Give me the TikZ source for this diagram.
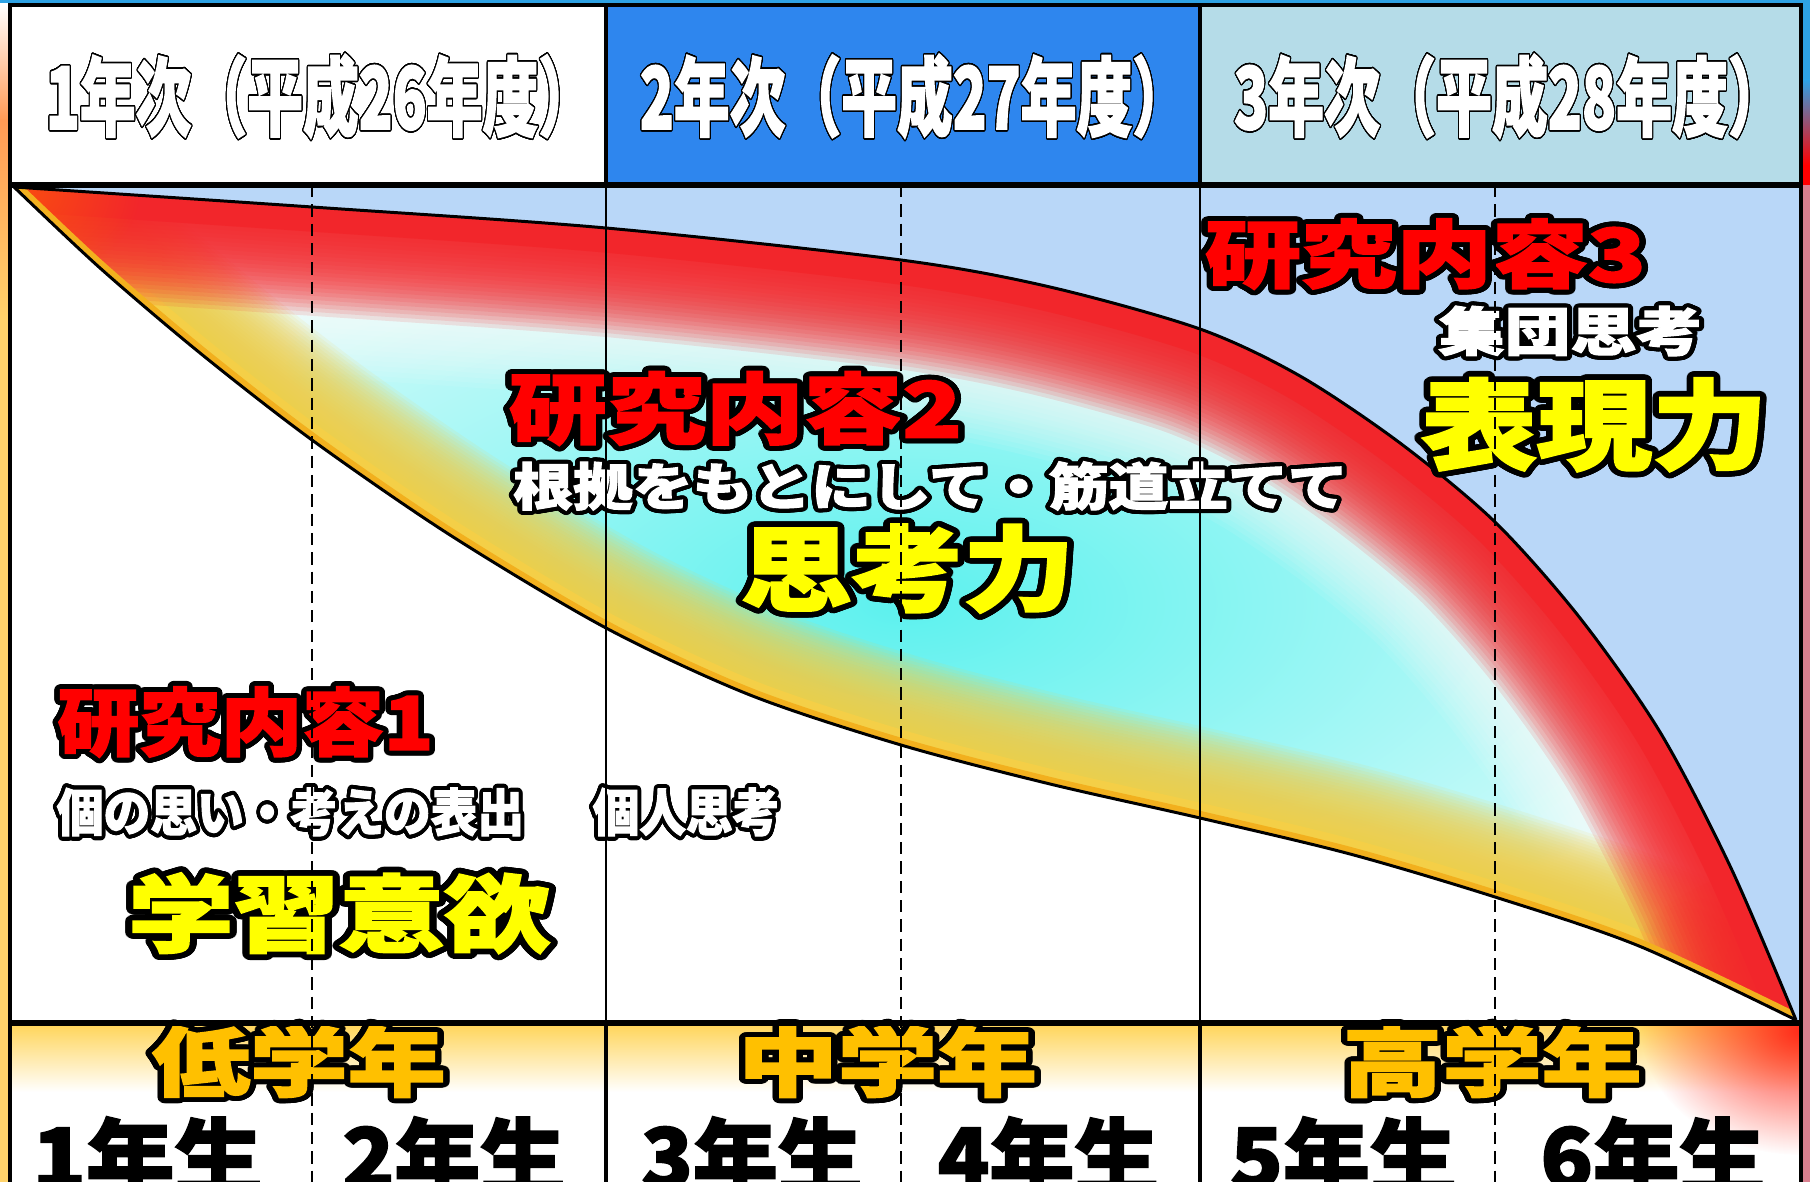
\documentclass[tikz,border=0pt]{standalone}
\usepackage{fontspec}
\usepackage{graphicx}
\usepackage{contour}
\usetikzlibrary{fadings}
\newfontfamily\jpn{Noto Sans CJK JP}[BoldFeatures={FakeBold=2}]
\contournumber{32}
\newcommand\jfs[1]{\jpn\bfseries\fontsize{#1pt}{#1pt}\selectfont}
\newcommand\olbl[3]{\resizebox{#1pt}{\height}{\contourlength{#2pt}\contour{black}{#3}}}
\newcommand\plbl[2]{\resizebox{#1pt}{\height}{#2}}
\definecolor{hdrblue}{HTML}{2E86EE}
\definecolor{hdrcyan}{HTML}{B5DCE8}
\definecolor{skyb}{HTML}{B9D7F8}
\definecolor{txtred}{HTML}{FF0000}
\definecolor{txtyel}{HTML}{FFFF00}
\definecolor{amber}{HTML}{FFC000}
\definecolor{bandred}{HTML}{F2262B}
\definecolor{bandyel}{HTML}{F4CF47}
\definecolor{bandorg}{HTML}{F2B01E}
\definecolor{cyanc}{HTML}{5CF1EE}
\definecolor{cyano}{HTML}{D6FBFA}
\definecolor{rowyel}{HTML}{FFD457}
\definecolor{glowred}{HTML}{FF2A1A}
\definecolor{topblue}{HTML}{2EA2E4}
\definecolor{rpink}{HTML}{D9808F}
\definecolor{lorange}{HTML}{FF9A55}
\definecolor{lyellow}{HTML}{FFD36B}
\tikzfading[name=glowfade, inner color=transparent!0, outer color=transparent!100]
\tikzset{
  lbl/.style={inner sep=0pt, outer sep=0pt, anchor=center},
  frameln/.style={line width=2.8pt, black},
  rowln/.style={line width=3.6pt, black},
  thinln/.style={line width=1.4pt, black},
  dashln/.style={line width=1.2pt, black, dash pattern=on 7pt off 4pt},
  curveln/.style={line width=1.7pt, black},
}
\begin{document}
\begin{tikzpicture}[x=0.02cm, y=-0.02cm]
\useasboundingbox (0,0) rectangle (1810,1182);
% outer strips
\fill[white] (0,0) rectangle (1810,1182);
\fill[topblue] (0,0) rectangle (1810,4);
\shade[top color=white, bottom color=lorange] (0,4) rectangle (9,120);
\shade[top color=lorange, bottom color=lyellow] (0,120) rectangle (9,320);
\fill[lyellow] (0,320) rectangle (9,1182);
\fill[topblue] (1802,0) rectangle (1810,80);
\shade[top color=topblue, bottom color=red] (1802,80) rectangle (1810,165);
\fill[red] (1802,165) rectangle (1810,185);
\fill[rpink] (1802,185) rectangle (1810,1182);
% header cells
\fill[white] (10,5) rectangle (606,185);
\fill[hdrblue] (606,5) rectangle (1200,185);
\fill[hdrcyan] (1200,5) rectangle (1801,185);
% chart area
\fill[skyb] (10,185) rectangle (1801,1023);
\path[save path=\upperP] plot[smooth] coordinates {(14,187) (312,207) (606,228) (901,260) (1050,287) (1200,329) (1300,376) (1400,443) (1495,522) (1580,618) (1660,732) (1731,868) (1796,1020)};
\path[save path=\lowerP] plot[smooth] coordinates {(14,187) (100,268) (200,353) (312,440) (450,535) (606,628) (750,695) (901,745) (1050,784) (1200,818) (1350,854) (1495,897) (1639,946) (1796,1020)};
\fill[white] plot[smooth] coordinates {(14,187) (100,268) (200,353) (312,440) (450,535) (606,628) (750,695) (901,745) (1050,784) (1200,818) (1350,854) (1495,897) (1639,946) (1796,1020)} -- (1801,1023) -- (10,1023) -- (10,187) -- cycle;
\begin{scope}
\clip plot[smooth] coordinates {(14,187) (312,207) (606,228) (901,260) (1050,287) (1200,329) (1300,376) (1400,443) (1495,522) (1580,618) (1660,732) (1731,868) (1796,1020)} -- plot[smooth] coordinates {(1796,1020) (1639,946) (1495,897) (1350,854) (1200,818) (1050,784) (901,745) (750,695) (606,628) (450,535) (312,440) (200,353) (100,268) (14,187)} -- cycle;
\shade[inner color=cyanc, outer color=cyano] (14,187) rectangle (1796,1020);
\foreach \h in {50,55,...,170}{
  \draw[white, line width=\h*1.134pt, opacity=.08, use path=\upperP];}
\foreach \h in {15,18,...,90}{
  \draw[bandyel, line width=\h*1.134pt, opacity=.1, use path=\lowerP];}
\draw[bandyel, line width=17pt, use path=\lowerP];
\foreach \h in {25,29,...,112}{
  \draw[bandred, line width=\h*1.134pt, opacity=.12, use path=\upperP];}
\draw[bandred, line width=28pt, use path=\upperP];
\fill[bandred, opacity=.85, path fading=glowfade] (1796,1015) ellipse (190 and 150);
\fill[orange!80!red, opacity=.6, path fading=glowfade] (20,192) ellipse (120 and 90);
\draw[bandorg, line width=8pt, use path=\lowerP];
\end{scope}
\draw[curveln, use path=\upperP];
\draw[curveln, use path=\lowerP];
% bottom row
\fill[white] (10,1023) rectangle (1801,1182);
\shade[top color=rowyel, bottom color=white] (10,1023) rectangle (1801,1092);
\begin{scope}
\clip (10,1023) rectangle (1801,1182);
\fill[glowred, path fading=glowfade] (1801,1030) ellipse (160 and 125);
\end{scope}
% header texts
\node[lbl, text=white, font={\jfs{49}}] (h1) at (320,97) {\olbl{312}{0.9}{1年次（平成26年度）}};
\node[lbl, text=white, font={\jfs{49}}] (h2) at (914,97) {\olbl{312}{0.9}{2年次（平成27年度）}};
\node[lbl, text=white, font={\jfs{49}}] (h3) at (1509,97) {\olbl{313}{0.9}{3年次（平成28年度）}};
% labels
\node[lbl, text=txtred, font={\jfs{42}}] (k1) at (245.5,724.5) {\olbl{214}{2.8}{研究内容1}};
\node[lbl, text=white, font={\jfs{29}}] (k1a) at (290.5,814) {\olbl{266}{2.3}{個の思い・考えの表出}};
\node[lbl, text=white, font={\jfs{29}}] (k1b) at (686,814) {\olbl{106}{2.3}{個人思考}};
\node[lbl, text=txtyel, font={\jfs{48}}] (k1c) at (339,916) {\olbl{240}{3.2}{学習意欲}};
\node[lbl, text=txtred, font={\jfs{44}}] (k2) at (735.5,411) {\olbl{258}{2.8}{研究内容2}};
\node[lbl, text=white, font={\jfs{29}}] (k2a) at (930.5,488) {\olbl{475}{2.3}{根拠をもとにして・筋道立てて}};
\node[lbl, text=txtyel, font={\jfs{53}}] (k2b) at (907.5,571.5) {\olbl{190}{3.2}{思考力}};
\node[lbl, text=txtred, font={\jfs{42}}] (k3) at (1425.5,256.5) {\olbl{251}{2.8}{研究内容3}};
\node[lbl, text=white, font={\jfs{30}}] (k3a) at (1570.5,333) {\olbl{150}{2.3}{集団思考}};
\node[lbl, text=txtyel, font={\jfs{56}}] (k3b) at (1594.5,427.5) {\olbl{197}{3.2}{表現力}};
\node[lbl, text=amber, font={\jfs{43.5}}] (g1) at (299,1063.5) {\olbl{167}{2.8}{低学年}};
\node[lbl, text=amber, font={\jfs{43.5}}] (g2) at (887.5,1063.5) {\olbl{170}{2.8}{中学年}};
\node[lbl, text=amber, font={\jfs{43.5}}] (g3) at (1492,1063.5) {\olbl{170}{2.8}{高学年}};
\node[lbl, text=black, font={\jfs{47}}] (y1) at (147.5,1156) {\plbl{131}{1年生}};
\node[lbl, text=black, font={\jfs{47}}] (y2) at (454,1156) {\plbl{127}{2年生}};
\node[lbl, text=black, font={\jfs{47}}] (y3) at (752,1156) {\plbl{126}{3年生}};
\node[lbl, text=black, font={\jfs{47}}] (y4) at (1048.5,1156) {\plbl{126}{4年生}};
\node[lbl, text=black, font={\jfs{47}}] (y5) at (1343.5,1156) {\plbl{129}{5年生}};
\node[lbl, text=black, font={\jfs{47}}] (y6) at (1653,1156) {\plbl{128}{6年生}};
% grid lines
\draw[thinln] (606,185) -- (606,1023) (1200,185) -- (1200,1023);
\draw[dashln] (312,185) -- (312,1182) (901,185) -- (901,1182) (1495,185) -- (1495,1182);
\draw[frameln] (10,1182) -- (10,5) -- (1801,5) -- (1801,1182);
\draw[frameln] (606,5) -- (606,185) (1200,5) -- (1200,185);
\draw[frameln] (606,1023) -- (606,1182) (1200,1023) -- (1200,1182);
\draw[rowln] (10,185) -- (1801,185) (10,1023) -- (1801,1023);
\end{tikzpicture}
\end{document}
